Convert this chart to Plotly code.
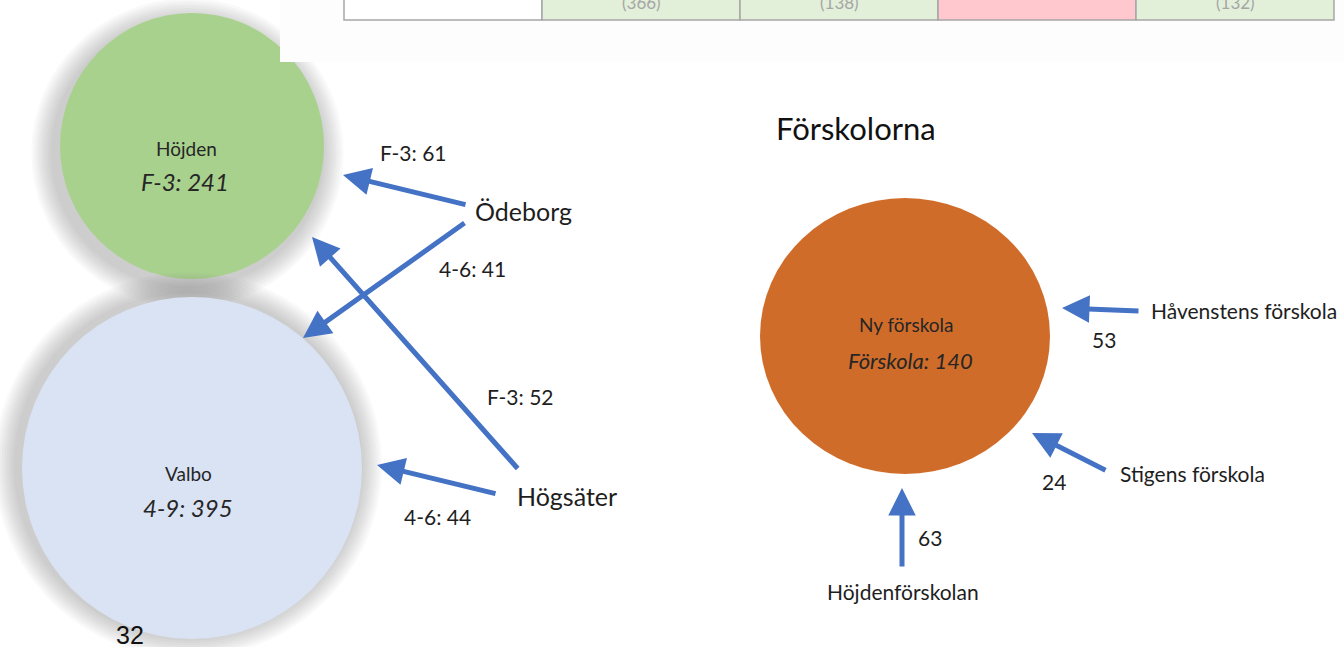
import plotly.graph_objects as go

# ---------------- data ----------------
school_names = ["Höjden", "Valbo"]
school_labels = ["F-3: 241", "4-9: 395"]
school_colors = ["#a9d18e", "#dae3f3"]

origin_names = ["Ödeborg", "Högsäter"]
flow_labels = ["F-3: 61", "4-6: 41", "F-3: 52", "4-6: 44"]

pre_title = "Förskolorna"
pre_name = "Ny förskola"
pre_label = "Förskola: 140"
pre_origins = ["Håvenstens förskola", "Stigens förskola", "Höjdenförskolan"]
pre_values = ["53", "24", "63"]

table_values = ["", "(366)", "(138)", "", "(132)"]
table_fills = ["#ffffff", "#e2efd9", "#e2efd9", "#ffc7ce", "#e2efd9"]
page_number = "32"

# ---------------- layout (pixel space) ----------------
W, H = 1344, 647
BLUE = "#4472c4"
FONT = "Lato, 'Open Sans', sans-serif"
TXT = "#262626"

circ_geom = [(192, 146, 132, 133), (192, 468, 170, 171)]   # cx, cy, rx, ry
shadow_off = [(-7, 7), (-6, -3)]
pre_geom = (905, 336, 145, 138)
table_x = [344, 542, 740, 938, 1136, 1334]

fig = go.Figure()
shapes = []
ann = []

# background patch behind table
shapes.append(dict(type="rect", x0=280, x1=W, y0=-5, y1=62, fillcolor="#fdfdfd",
                   line=dict(width=0), layer="below"))

# circles with soft shadows
for (cx, cy, rx, ry), col, (ox, oy) in zip(circ_geom, school_colors, shadow_off):
    for i in range(9, 0, -1):
        g = i * 2.4
        shapes.append(dict(type="circle", x0=cx - rx - g + ox, x1=cx + rx + g + ox * 0.3,
                           y0=cy - ry - g + oy, y1=cy + ry + g + oy,
                           fillcolor="rgba(80,80,80,0.035)", line=dict(width=0), layer="below"))
    shapes.append(dict(type="circle", x0=cx - rx, x1=cx + rx, y0=cy - ry, y1=cy + ry,
                       fillcolor=col, line=dict(width=0), layer="below"))

cx, cy, rx, ry = pre_geom
shapes.append(dict(type="circle", x0=cx - rx, x1=cx + rx, y0=cy - ry, y1=cy + ry,
                   fillcolor="#d06c2a", line=dict(width=0), layer="below"))

# patch clipping top-right of Höjden
shapes.append(dict(type="rect", x0=280, x1=340, y0=-5, y1=62, fillcolor="#fdfdfd",
                   line=dict(width=0), layer="below"))

# table row
for i, (txt, fc) in enumerate(zip(table_values, table_fills)):
    x0, x1 = table_x[i], table_x[i + 1]
    shapes.append(dict(type="rect", x0=x0, x1=x1, y0=-10, y1=20, fillcolor=fc,
                       line=dict(color="#a6a6a6", width=1.5), layer="above"))
    if txt:
        ann.append(dict(x=(x0 + x1) / 2, y=2, text=txt, showarrow=False,
                        font=dict(family=FONT, size=17, color="#a6a6a6")))

# circle texts
name_pos = [(186, 148), (188, 473)]
lab_pos = [(185, 181), (188, 507)]
for n, l, p1, p2 in zip(school_names, school_labels, name_pos, lab_pos):
    ann.append(dict(x=p1[0], y=p1[1], text=n, showarrow=False,
                    font=dict(family=FONT, size=19, color=TXT)))
    ann.append(dict(x=p2[0], y=p2[1], text="<i>" + l + "</i>", showarrow=False,
                    font=dict(family=FONT, size=24, color=TXT)))

# origins
origin_pos = [(523, 211), (567, 496)]
for n, p in zip(origin_names, origin_pos):
    ann.append(dict(x=p[0], y=p[1], text=n, showarrow=False,
                    font=dict(family=FONT, size=25, color="#1e1e1e")))

# arrows: (tail, head)
arrows = [((467, 205), (343, 175)), ((466, 222), (303, 338)),
          ((519, 470), (312, 237)), ((497, 494), (377, 465)),
          ((1140, 311), (1062, 308)), ((1107, 471), (1032, 433)),
          ((902, 568), (902, 488))]
for (tx, ty), (hx, hy) in arrows:
    ann.append(dict(x=hx, y=hy, ax=tx, ay=ty, xref="x", yref="y", axref="x", ayref="y",
                    text="", showarrow=True, arrowhead=2, arrowsize=1.1,
                    arrowwidth=5, arrowcolor=BLUE))

flow_pos = [(413, 152), (472, 268), (520, 396), (437, 516)]
for t, p in zip(flow_labels, flow_pos):
    ann.append(dict(x=p[0], y=p[1], text=t, showarrow=False,
                    font=dict(family=FONT, size=21, color="#1e1e1e")))

# preschool part
ann.append(dict(x=856, y=128, text=pre_title, showarrow=False,
                font=dict(family=FONT, size=31, color="#111111")))
ann.append(dict(x=906, y=324, text=pre_name, showarrow=False,
                font=dict(family=FONT, size=19, color=TXT)))
ann.append(dict(x=910, y=360, text="<i>" + pre_label + "</i>", showarrow=False,
                font=dict(family=FONT, size=22, color=TXT)))

pre_origin_pos = [(1244, 310), (1192, 473), (903, 591)]
for n, p in zip(pre_origins, pre_origin_pos):
    ann.append(dict(x=p[0], y=p[1], text=n, showarrow=False,
                    font=dict(family=FONT, size=21, color="#1e1e1e")))
pre_val_pos = [(1104, 339), (1054, 481), (930, 537)]
for v, p in zip(pre_values, pre_val_pos):
    ann.append(dict(x=p[0], y=p[1], text=v, showarrow=False,
                    font=dict(family=FONT, size=21, color="#1e1e1e")))

ann.append(dict(x=130, y=635, text=page_number, showarrow=False,
                font=dict(family="Liberation Sans, Arial", size=25, color="#111111")))

fig.update_layout(
    width=W, height=H, margin=dict(l=0, r=0, t=0, b=0),
    paper_bgcolor="#ffffff", plot_bgcolor="#ffffff",
    xaxis=dict(range=[0, W], visible=False, fixedrange=True),
    yaxis=dict(range=[H, 0], visible=False, fixedrange=True),
    shapes=shapes, annotations=ann, showlegend=False,
)
fig.write_html("out.html", config={"displayModeBar": False},
               post_script="document.body.style.margin='0px';document.body.style.overflow='hidden';")
